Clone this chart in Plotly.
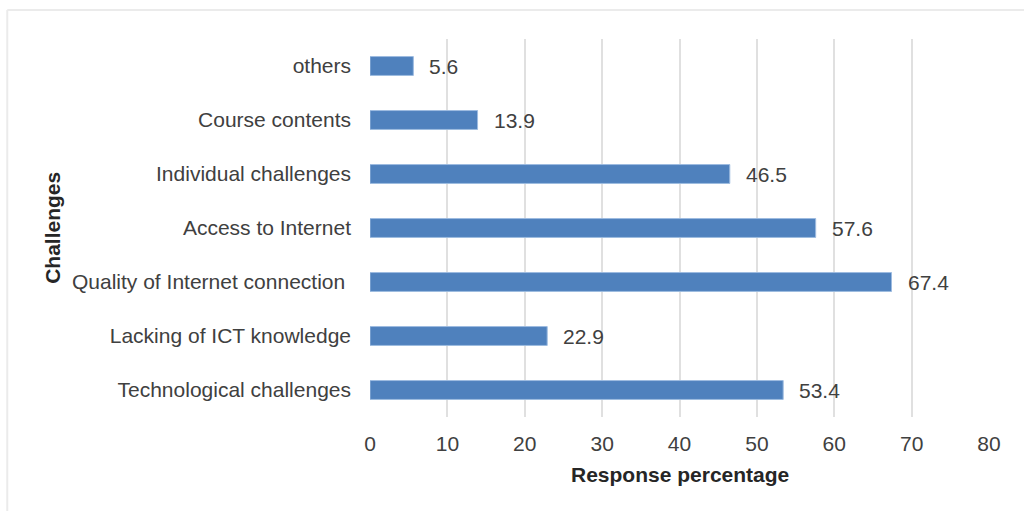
import plotly.graph_objects as go

categories = ["others", "Course contents", "Individual challenges", "Access to Internet",
              "Quality of Internet connection\u00a0", "Lacking of ICT knowledge", "Technological challenges"]
values = [5.6, 13.9, 46.5, 57.6, 67.4, 22.9, 53.4]
x_ticks = [0, 10, 20, 30, 40, 50, 60, 70, 80]

FONT = "Liberation Sans, Arial, sans-serif"
TXT = "#404040"
FS = 21

fig = go.Figure()
fig.add_trace(go.Bar(
    x=values, y=categories, orientation="h", width=0.35,
    marker=dict(color="#4F81BD", line=dict(color="#9DBBE0", width=1)),
    hoverinfo="x+y",
))

annotations = []
for v, c in zip(values, categories):
    annotations.append(dict(x=v, y=c, xref="x", yref="y", text=f"{v:.1f}", showarrow=False,
                            xanchor="left", yanchor="middle", xshift=14,
                            font=dict(family=FONT, size=FS, color=TXT)))
annotations.append(dict(x=0.5, y=-0.153, xref="paper", yref="paper", text="<b>Response percentage</b>",
                        showarrow=False, xanchor="center", yanchor="middle",
                        font=dict(family=FONT, size=FS, color="#262626")))
annotations.append(dict(x=-0.514, y=0.5, xref="paper", yref="paper", text="<b>Challenges</b>",
                        showarrow=False, xanchor="center", yanchor="middle", textangle=-90,
                        font=dict(family=FONT, size=FS, color="#262626")))

shapes = [
    dict(type="line", xref="paper", yref="paper", x0=-0.586, x1=1.2, y0=1.0767, y1=1.0767,
         line=dict(color="#EBEBEB", width=2)),
    dict(type="line", xref="paper", yref="paper", x0=-0.586, x1=-0.586, y0=1.0767, y1=-0.3,
         line=dict(color="#EBEBEB", width=2)),
]

fig.update_layout(
    width=1024, height=511,
    margin=dict(l=370, r=35, t=39, b=94),
    paper_bgcolor="white", plot_bgcolor="white",
    showlegend=False,
    font=dict(family=FONT, size=FS, color=TXT),
    xaxis=dict(range=[0, 80], tickvals=x_ticks, showgrid=True, gridcolor="#E0E0E0", gridwidth=1.5,
               zeroline=False, showline=False, ticks="", ticklabelstandoff=12,
               tickfont=dict(family=FONT, size=FS, color=TXT)),
    yaxis=dict(autorange="reversed", showgrid=False, zeroline=False, showline=False, ticks="",
               ticklabelstandoff=18, tickfont=dict(family=FONT, size=FS, color=TXT)),
    annotations=annotations, shapes=shapes,
    bargap=0.65,
)

fig.write_html("out.html")
